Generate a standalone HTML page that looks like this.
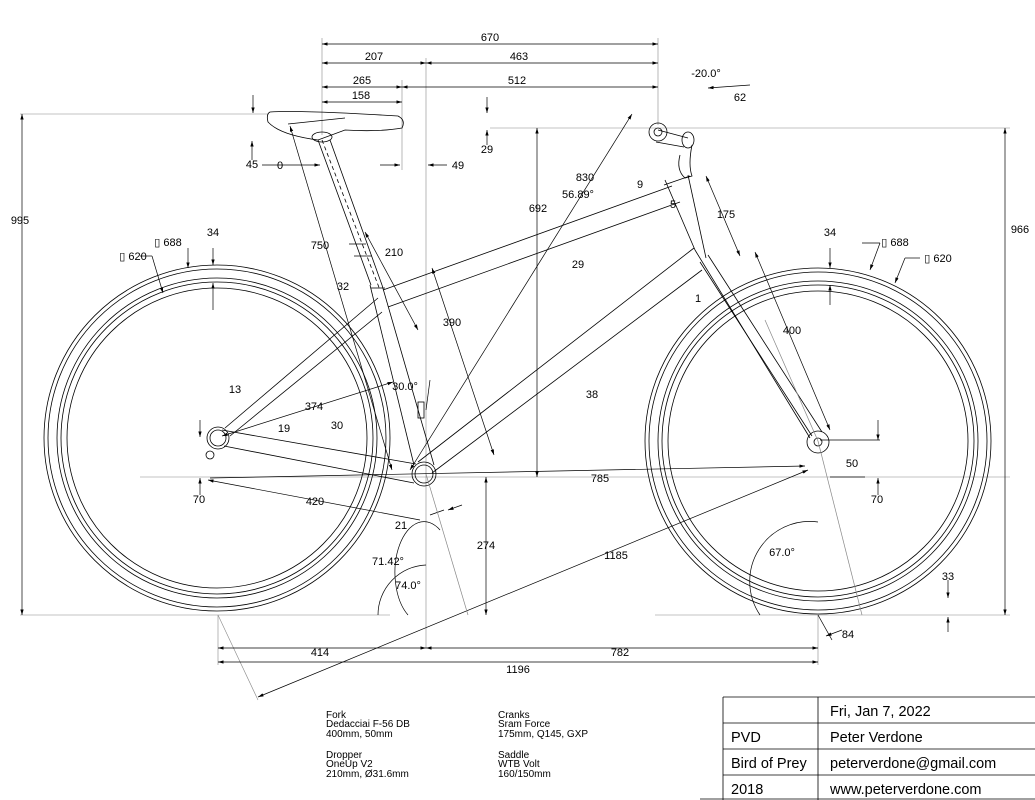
<!DOCTYPE html>
<html><head><meta charset="utf-8"><style>
html,body{margin:0;padding:0;background:#fff;}
svg{display:block;font-family:"Liberation Sans",sans-serif;}
</style></head><body>
<svg width="1035" height="800" viewBox="0 0 1035 800" xmlns="http://www.w3.org/2000/svg">
<defs>
<marker id="a" viewBox="0 0 10 10" refX="10" refY="5" markerWidth="8" markerHeight="8" orient="auto-start-reverse"><path d="M0,2 L10,5 L0,8 z" fill="#000"/></marker>
</defs>
<g fill="none" stroke="#000" stroke-width="0.8">
<g stroke="#888" stroke-width="0.6">
<line x1="20" y1="114" x2="268" y2="114"/>
<line x1="20" y1="615" x2="390" y2="615"/>
<line x1="655" y1="615" x2="1010" y2="615"/>
<line x1="490" y1="128" x2="1010" y2="128"/>
<line x1="140" y1="477" x2="1010" y2="477"/>
<line x1="426" y1="58" x2="426" y2="648"/>
<line x1="322" y1="38" x2="322" y2="135"/>
<line x1="658" y1="38" x2="658" y2="125"/>
<line x1="402" y1="80" x2="402" y2="170"/>
<line x1="218" y1="615" x2="218" y2="665"/>
<line x1="818" y1="615" x2="818" y2="665"/>
<line x1="218" y1="615" x2="258" y2="700"/>
</g>
<g>
<circle cx="217" cy="438" r="173"/><circle cx="217" cy="438" r="169"/><circle cx="217" cy="438" r="160"/><circle cx="217" cy="438" r="156"/><circle cx="217" cy="438" r="150"/>
<circle cx="818" cy="441" r="173"/><circle cx="818" cy="441" r="169"/><circle cx="818" cy="441" r="160"/><circle cx="818" cy="441" r="156"/><circle cx="818" cy="441" r="150"/>
</g>
<circle cx="218" cy="438" r="11"/><circle cx="218" cy="438" r="8"/>
<circle cx="210" cy="455" r="4"/>
<circle cx="818" cy="442" r="11"/><circle cx="818" cy="442" r="4"/>
<circle cx="424" cy="474" r="12"/><circle cx="424" cy="474" r="9"/>
<line x1="222" y1="430" x2="416" y2="464"/><line x1="224" y1="446" x2="414" y2="483"/>
<line x1="225" y1="428" x2="378" y2="298"/><line x1="230" y1="436" x2="382" y2="312"/>
<line x1="370" y1="285" x2="414" y2="465"/><line x1="382" y1="285" x2="434" y2="465"/>
<line x1="371" y1="288" x2="385" y2="288"/>
<line x1="318" y1="140" x2="371" y2="285"/><line x1="330" y1="140" x2="382" y2="285"/>
<line x1="322" y1="140" x2="380" y2="290" stroke-dasharray="4,3"/>
<line x1="349" y1="244" x2="366" y2="244"/><line x1="354" y1="256" x2="372" y2="256"/>
<path d="M270,112 Q300,110 398,116 Q406,120 402,128 Q380,132 345,130 L318,140 Q280,135 268,122 Q266,114 270,112 Z"/>
<ellipse cx="322" cy="137" rx="10" ry="5"/>
<line x1="288" y1="124" x2="345" y2="118"/>
<line x1="383" y1="290" x2="672" y2="186"/><line x1="388" y1="307" x2="680" y2="202"/>
<line x1="418" y1="462" x2="694" y2="248"/><line x1="432" y1="473" x2="702" y2="270"/>
<line x1="665" y1="180" x2="695" y2="250"/><line x1="688" y1="175" x2="706" y2="258"/>
<line x1="664" y1="185" x2="690" y2="176"/>
<line x1="700" y1="262" x2="812" y2="436"/><line x1="708" y1="255" x2="822" y2="432"/>
<line x1="695" y1="250" x2="810" y2="438"/>
<path d="M680,155 Q676,170 685,178 L692,176 Q688,165 692,145"/>
<line x1="658" y1="130" x2="688" y2="138"/><line x1="656" y1="142" x2="684" y2="147"/>
<circle cx="658" cy="132" r="9"/><circle cx="658" cy="132" r="4"/>
<ellipse cx="688" cy="140" rx="6" ry="8"/>
<rect x="418" y="402" width="6" height="16"/>
</g>
<g fill="none" stroke="#000" stroke-width="0.7">
<line x1="322" y1="44" x2="658" y2="44" marker-start="url(#a)" marker-end="url(#a)"/>
<line x1="322" y1="63" x2="426" y2="63" marker-start="url(#a)" marker-end="url(#a)"/>
<line x1="426" y1="63" x2="658" y2="63" marker-start="url(#a)" marker-end="url(#a)"/>
<line x1="322" y1="87" x2="402" y2="87" marker-start="url(#a)" marker-end="url(#a)"/>
<line x1="402" y1="87" x2="658" y2="87" marker-start="url(#a)" marker-end="url(#a)"/>
<line x1="322" y1="102" x2="402" y2="102" marker-start="url(#a)" marker-end="url(#a)"/>
<line x1="22" y1="114" x2="22" y2="615" marker-start="url(#a)" marker-end="url(#a)"/>
<line x1="1005" y1="128" x2="1005" y2="615" marker-start="url(#a)" marker-end="url(#a)"/>
<line x1="218" y1="648" x2="426" y2="648" marker-start="url(#a)" marker-end="url(#a)"/>
<line x1="426" y1="648" x2="818" y2="648" marker-start="url(#a)" marker-end="url(#a)"/>
<line x1="218" y1="662" x2="818" y2="662" marker-start="url(#a)" marker-end="url(#a)"/>
<line x1="537" y1="128" x2="537" y2="477" marker-start="url(#a)" marker-end="url(#a)"/>
<line x1="486" y1="477" x2="486" y2="615" marker-start="url(#a)" marker-end="url(#a)"/>
<line x1="258" y1="697" x2="808" y2="470" marker-start="url(#a)" marker-end="url(#a)"/>
<line x1="210" y1="478" x2="805" y2="466" marker-end="url(#a)"/>
<line x1="208" y1="480" x2="420" y2="520" marker-start="url(#a)"/>
<line x1="410" y1="470" x2="632" y2="114" marker-start="url(#a)" marker-end="url(#a)"/>
<line x1="290" y1="126" x2="392" y2="470" marker-start="url(#a)" marker-end="url(#a)"/>
<line x1="432" y1="268" x2="494" y2="455" marker-start="url(#a)" marker-end="url(#a)"/>
<line x1="222" y1="436" x2="393" y2="382" marker-start="url(#a)" marker-end="url(#a)"/>
<line x1="706" y1="176" x2="740" y2="256" marker-start="url(#a)" marker-end="url(#a)"/>
<line x1="755" y1="252" x2="830" y2="430" marker-start="url(#a)" marker-end="url(#a)"/>
<line x1="365" y1="232" x2="418" y2="330" marker-start="url(#a)" marker-end="url(#a)"/>
<line x1="820" y1="440" x2="880" y2="440"/>
<line x1="878" y1="420" x2="878" y2="440" marker-end="url(#a)"/>
<line x1="830" y1="477" x2="865" y2="477"/>
<line x1="188" y1="248" x2="188" y2="268" marker-end="url(#a)"/>
<line x1="213" y1="248" x2="213" y2="265" marker-end="url(#a)"/>
<line x1="213" y1="310" x2="213" y2="283" marker-end="url(#a)"/>
<line x1="830" y1="248" x2="830" y2="268" marker-end="url(#a)"/>
<line x1="830" y1="305" x2="830" y2="285" marker-end="url(#a)"/>
<line x1="862" y1="243" x2="880" y2="243"/><line x1="880" y1="243" x2="870" y2="270" marker-end="url(#a)"/>
<line x1="905" y1="258" x2="920" y2="258"/><line x1="905" y1="258" x2="895" y2="283" marker-end="url(#a)"/>
<line x1="140" y1="256" x2="152" y2="256"/><line x1="152" y1="256" x2="163" y2="293" marker-end="url(#a)"/>
<line x1="253" y1="95" x2="253" y2="113" marker-end="url(#a)"/>
<line x1="252" y1="160" x2="252" y2="141" marker-end="url(#a)"/>
<line x1="487" y1="97" x2="487" y2="113" marker-end="url(#a)"/>
<line x1="487" y1="145" x2="487" y2="130" marker-end="url(#a)"/>
<line x1="262" y1="165" x2="320" y2="165" marker-end="url(#a)"/>
<line x1="380" y1="165" x2="400" y2="165" marker-end="url(#a)"/>
<line x1="447" y1="165" x2="428" y2="165" marker-end="url(#a)"/>
<line x1="200" y1="420" x2="200" y2="437" marker-end="url(#a)"/>
<line x1="200" y1="495" x2="200" y2="478" marker-end="url(#a)"/>
<line x1="878" y1="495" x2="878" y2="478" marker-end="url(#a)"/>
<line x1="948" y1="580" x2="948" y2="598" marker-end="url(#a)"/>
<line x1="948" y1="632" x2="948" y2="617" marker-end="url(#a)"/>
<line x1="750" y1="85" x2="708" y2="88" marker-end="url(#a)"/>
<line x1="818" y1="615" x2="832" y2="640"/><line x1="842" y1="630" x2="826" y2="636" marker-end="url(#a)"/>
<line x1="430" y1="515" x2="444" y2="510"/>
<line x1="462" y1="505" x2="448" y2="510" marker-end="url(#a)"/>
<path d="M378,615 A50,50 0 0 1 426,565"/>
<path d="M408,615 A20,35 0 0 1 440,530" />
<line x1="426" y1="474" x2="468" y2="615" stroke="#888"/>
<path d="M760,615 A60,60 0 0 1 818,522"/>
<line x1="818" y1="441" x2="862" y2="615" stroke="#888"/>
<line x1="818" y1="441" x2="765" y2="320" stroke="#888"/>
<line x1="430" y1="380" x2="426" y2="410"/>
</g>
<g font-size="11" fill="#000" text-anchor="middle">
<text x="490" y="41">670</text>
<text x="374" y="60">207</text>
<text x="519" y="60">463</text>
<text x="362" y="84">265</text>
<text x="517" y="84">512</text>
<text x="361" y="99">158</text>
<text x="706" y="77">-20.0°</text>
<text x="740" y="101">62</text>
<text x="252" y="168">45</text>
<text x="280" y="169">0</text>
<text x="458" y="169">49</text>
<text x="487" y="153">29</text>
<text x="20" y="224">995</text>
<text x="1020" y="233">966</text>
<text x="538" y="212">692</text>
<text x="585" y="181">830</text>
<text x="578" y="198">56.89°</text>
<text x="640" y="188">9</text>
<text x="673" y="208">5</text>
<text x="726" y="218">175</text>
<text x="578" y="268">29</text>
<text x="698" y="302">1</text>
<text x="792" y="334">400</text>
<text x="320" y="249">750</text>
<text x="394" y="256">210</text>
<text x="343" y="290">32</text>
<text x="452" y="326">390</text>
<text x="592" y="398">38</text>
<text x="405" y="390">30.0°</text>
<text x="314" y="410">374</text>
<text x="337" y="429">30</text>
<text x="235" y="393">13</text>
<text x="284" y="432">19</text>
<text x="213" y="236">34</text>
<text x="830" y="236">34</text>
<text x="168" y="246">▯ 688</text>
<text x="133" y="260">▯ 620</text>
<text x="895" y="246">▯ 688</text>
<text x="938" y="262">▯ 620</text>
<text x="199" y="503">70</text>
<text x="315" y="505">420</text>
<text x="401" y="529">21</text>
<text x="600" y="482">785</text>
<text x="852" y="467">50</text>
<text x="877" y="503">70</text>
<text x="486" y="549">274</text>
<text x="616" y="559">1185</text>
<text x="388" y="565">71.42°</text>
<text x="408" y="589">74.0°</text>
<text x="782" y="556">67.0°</text>
<text x="948" y="580">33</text>
<text x="848" y="638">84</text>
<text x="320" y="656">414</text>
<text x="620" y="656">782</text>
<text x="518" y="673">1196</text>
</g>
<g font-size="10" fill="#000">
<text x="326" y="718">Fork</text>
<text x="326" y="727">Dedacciai F-56 DB</text>
<text x="326" y="737">400mm, 50mm</text>
<text x="326" y="758">Dropper</text>
<text x="326" y="767">OneUp V2</text>
<text x="326" y="777">210mm, Ø31.6mm</text>
<text x="498" y="718">Cranks</text>
<text x="498" y="727">Sram Force</text>
<text x="498" y="737">175mm, Q145, GXP</text>
<text x="498" y="758">Saddle</text>
<text x="498" y="767">WTB Volt</text>
<text x="498" y="777">160/150mm</text>
</g>
<g stroke="#000" stroke-width="0.8" fill="none">
<line x1="723" y1="697" x2="1035" y2="697"/>
<line x1="723" y1="697" x2="723" y2="800"/>
<line x1="818" y1="697" x2="818" y2="800"/>
<line x1="723" y1="723" x2="1035" y2="723"/>
<line x1="723" y1="749" x2="1035" y2="749"/>
<line x1="723" y1="775" x2="1035" y2="775"/>
<line x1="700" y1="799" x2="1035" y2="799"/>
</g>
<g font-size="14.5" fill="#000">
<text x="830" y="716">Fri, Jan 7, 2022</text>
<text x="731" y="742">PVD</text>
<text x="830" y="742">Peter Verdone</text>
<text x="731" y="768">Bird of Prey</text>
<text x="830" y="768">peterverdone@gmail.com</text>
<text x="731" y="794">2018</text>
<text x="830" y="794">www.peterverdone.com</text>
</g>
</svg>
</body></html>
